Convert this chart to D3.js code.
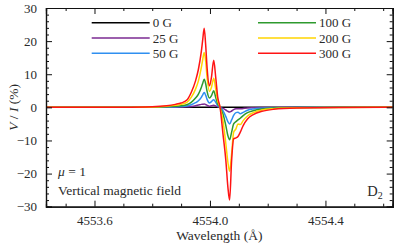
<!DOCTYPE html>
<head>
<meta charset="utf-8">
<script src="https://cdn.jsdelivr.net/npm/d3@7"></script>
<style>
  body { margin:0; background:#fff; }
  text { font-family: 'Liberation Serif', 'Times New Roman', 'DejaVu Serif', serif; fill:#2a2a2a; }
  .axis line, .axis path { stroke:#111; }
</style>
</head>
<body>
<svg id="chart" width="403" height="248"></svg>
<script>
// wavelength grid (Angstrom) and Stokes V/I (%)
var wave = [4553.43, 4553.70, 4553.80, 4553.85, 4553.88, 4553.90, 4553.92, 4553.935, 4553.95, 4553.96,
            4553.97, 4553.975, 4553.98, 4553.985, 4553.99, 4553.998, 4554.005, 4554.013, 4554.02, 4554.027,
            4554.035, 4554.045, 4554.055, 4554.062, 4554.068, 4554.075, 4554.082, 4554.09, 4554.097, 4554.105,
            4554.115, 4554.13, 4554.15, 4554.18, 4554.22, 4554.30, 4554.45, 4554.64];

var v0 = [0,0,0,0,0,0,0,0,0,0, 0,0,0,0,0,0,0,0,0,0, 0,0,0,0,0,0,0,0,0,0, 0,0,0,0,0,0,0,0];
var v25 = [0, 0, 0.01, 0.03, 0.06, 0.09, 0.15, 0.28, 0.5, 0.7,
           0.9, 0.95, 1.0, 0.85, 0.6, 0.35, 0.5, 0.6, 0.4, 0.15,
           0, -0.3, -0.8, -1.2, -1.4, -1.1, -0.7, -0.45, -0.4, -0.45,
           -0.35, -0.2, -0.12, -0.06, -0.02, 0, 0, 0];
var v50 = [0, 0.01, 0.03, 0.07, 0.15, 0.22, 0.4, 0.8, 1.4, 2.0,
           3.0, 3.8, 4.5, 3.7, 2.4, 1.3, 1.7, 2.3, 1.5, 0.5,
           0, -1.0, -2.8, -4.3, -5.0, -3.8, -2.4, -1.6, -1.5, -1.9,
           -1.5, -0.9, -0.5, -0.25, -0.1, -0.03, 0, 0];
var v100 = [0, 0.02, 0.05, 0.15, 0.3, 0.45, 0.8, 1.5, 2.8, 4.0,
            6.0, 7.3, 8.5, 7.2, 4.8, 2.8, 3.5, 5.0, 3.0, 1.0,
            0, -2.0, -5.5, -8.5, -9.8, -7.5, -5.0, -4.3, -3.8, -3.3,
            -2.5, -1.6, -1.0, -0.5, -0.2, -0.05, 0, 0];
var v200 = [0, 0.04, 0.12, 0.35, 0.6, 0.9, 1.5, 3.0, 5.5, 8.0,
            12.0, 14.5, 16.6, 14.0, 9.0, 4.8, 6.0, 8.8, 5.5, 2.0,
            0, -4.0, -11.0, -16.5, -19.3, -14.0, -7.5, -6.5, -5.0, -5.2,
            -4.0, -2.6, -1.6, -0.8, -0.4, -0.12, -0.03, 0];
var v300 = [0, 0.05, 0.2, 0.5, 0.9, 1.3, 2.2, 4.5, 8.0, 11.5,
            16.8, 20.5, 23.9, 19.0, 12.0, 6.5, 9.0, 14.2, 9.0, 3.0,
            0, -8.0, -16.0, -24.0, -28.0, -16.0, -9.5, -9.2, -8.8, -7.5,
            -5.5, -3.5, -2.2, -1.2, -0.6, -0.2, -0.05, 0];

var seriesNames = ["0 G", "25 G", "50 G", "100 G", "200 G", "300 G"];
var seriesValues = [v0, v25, v50, v100, v200, v300];
var seriesColors = ["#000000", "#7b2a92", "#2f8ff0", "#2e9a2e", "#ffd500", "#ff1414"];

var xTicks = [4553.6, 4554.0, 4554.4];
var yTicks = [-30, -20, -10, 0, 10, 20, 30];

var margin = {top: 8, right: 10.3, bottom: 41.3, left: 46},
    width = 403 - margin.left - margin.right,
    height = 248 - margin.top - margin.bottom;

var svg = d3.select("#chart");
var g = svg.append("g").attr("transform", "translate(" + margin.left + "," + margin.top + ")");

var x = d3.scaleLinear().domain([4553.432, 4554.633]).range([0, width]);
var y = d3.scaleLinear().domain([-30, 30]).range([height, 0]);

g.append("clipPath").attr("id", "clip")
  .append("rect").attr("width", width).attr("height", height);

var line = d3.line()
    .x(function(d) { return x(d[0]); })
    .y(function(d) { return y(d[1]); })
    .curve(d3.curveMonotoneX);

var lines = g.append("g").attr("clip-path", "url(#clip)");
seriesValues.forEach(function(vals, i) {
  lines.append("path")
    .datum(wave.map(function(w, j) { return [w, vals[j]]; }))
    .attr("fill", "none")
    .attr("stroke", seriesColors[i])
    .attr("stroke-width", 1.5)
    .attr("d", line);
});

// ticks every 0.1 A, majors every 0.4
var xMinor = d3.range(4553.5, 4554.65, 0.1).filter(function(t) {
  return !xTicks.some(function(m) { return Math.abs(m - t) < 1e-6; });
});
var yMinor = d3.range(-28, 30, 2).filter(function(t) { return t % 10 !== 0; });

function fmtY(d) { return d < 0 ? "\u2212" + Math.abs(d) : d; }

g.append("g").attr("class", "axis").attr("transform", "translate(0," + height + ")")
  .call(d3.axisBottom(x).tickValues(xTicks).tickSize(-6).tickPadding(9).tickFormat(d3.format(".1f")));
g.append("g").attr("class", "axis").attr("transform", "translate(0," + height + ")")
  .call(d3.axisBottom(x).tickValues(xMinor).tickSize(-3).tickFormat(""));
g.append("g").attr("class", "axis")
  .call(d3.axisTop(x).tickValues(xTicks).tickSize(-6).tickFormat(""));
g.append("g").attr("class", "axis")
  .call(d3.axisTop(x).tickValues(xMinor).tickSize(-3).tickFormat(""));

g.append("g").attr("class", "axis")
  .call(d3.axisLeft(y).tickValues(yTicks).tickSize(-6).tickPadding(9).tickFormat(fmtY));
g.append("g").attr("class", "axis")
  .call(d3.axisLeft(y).tickValues(yMinor).tickSize(-3).tickFormat(""));
g.append("g").attr("class", "axis").attr("transform", "translate(" + width + ",0)")
  .call(d3.axisRight(y).tickValues(yTicks).tickSize(-6).tickFormat(""));
g.append("g").attr("class", "axis").attr("transform", "translate(" + width + ",0)")
  .call(d3.axisRight(y).tickValues(yMinor).tickSize(-3).tickFormat(""));

g.selectAll(".axis").attr("font-family", null);
g.selectAll(".axis text").style("font-size", "13px").style("fill", "#2a2a2a");
g.selectAll(".axis path.domain").attr("stroke-width", 1.2);

// axis labels
svg.append("text")
  .attr("x", margin.left + width / 2).attr("y", 240)
  .attr("text-anchor", "middle").style("font-size", "13.5px")
  .text("Wavelength (\u00C5)");

var yl = svg.append("text")
  .attr("transform", "translate(18," + (margin.top + y(0)) + ") rotate(-90)")
  .attr("text-anchor", "middle").style("font-size", "13.5px");
yl.append("tspan").style("font-style", "italic").text("V");
yl.append("tspan").text(" / ");
yl.append("tspan").style("font-style", "italic").text("I");
yl.append("tspan").text(" (%)");

// legend, two columns
var legend = g.selectAll(".legend")
    .data(seriesNames)
  .enter().append("g")
    .attr("class", "legend")
    .attr("transform", function(d, i) {
      var col = Math.floor(i / 3), row = i % 3;
      return "translate(" + (col ? 212 : 45.7) + "," + (14.7 + row * 15.3) + ")";
    });
legend.append("line")
  .attr("x1", 0).attr("x2", 58)
  .attr("stroke", function(d, i) { return seriesColors[i]; })
  .attr("stroke-width", 1.5);
legend.append("text")
  .attr("x", 61).attr("dy", "0.35em")
  .style("font-size", "13px")
  .text(function(d) { return d; });

// annotations
var mu = g.append("text").attr("x", 12).attr("y", 168).style("font-size", "13.5px");
mu.append("tspan").style("font-style", "italic").text("\u03BC");
mu.append("tspan").text(" = 1");
g.append("text").attr("x", 12).attr("y", 187).style("font-size", "13.5px").text("Vertical magnetic field");

var dl = g.append("text").attr("x", width - 10).attr("y", 188).attr("text-anchor", "end").style("font-size", "14.5px");
dl.append("tspan").text("D");
dl.append("tspan").attr("dy", 3).style("font-size", "10px").text("2");
</script>
</body>
